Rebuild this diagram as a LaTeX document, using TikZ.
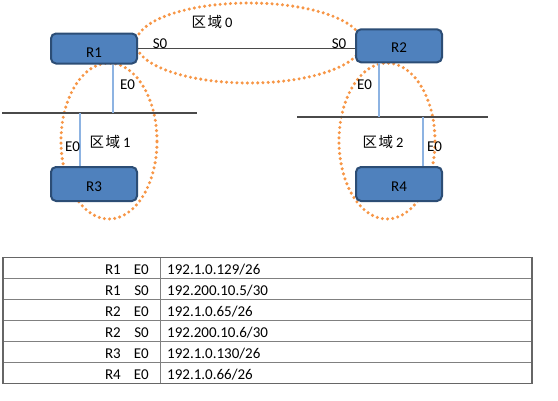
\documentclass[tikz,border=0pt]{standalone}
\usepackage{fontspec}
\setmainfont{Carlito}
\newfontfamily\cjk{Noto Sans CJK SC}
\definecolor{routerfill}{HTML}{4F81BD}
\definecolor{routerborder}{HTML}{2C4D75}
\definecolor{areaorange}{HTML}{F79646}
\definecolor{busgray}{HTML}{4A4A4A}
\definecolor{linkblue}{HTML}{8DB3E2}
\definecolor{tablegray}{HTML}{808080}
\definecolor{tableedge}{HTML}{666666}
\newcommand\lowered[2]{\raisebox{-#1}[\height][0pt]{#2}}
\newcommand\areaname[1]{{\cjk 区\kern1.5pt 域}\kern3pt #1}
\begin{document}
\begin{tikzpicture}[x=1pt,y=-1pt,
  router/.style={draw=routerborder, fill=routerfill, line width=2pt, rounded corners=5pt,
    minimum width=86pt, inner sep=0pt, font=\fontsize{15}{17}\selectfont},
  area/.style={draw=areaorange, line width=3.4pt, line cap=round, dash pattern=on 0pt off 5.2pt},
  bus/.style={draw=busgray, line width=1.5pt},
  link/.style={draw=linkblue, line width=1.1pt},
  lbl/.style={font=\fontsize{15}{17}\selectfont, inner sep=0pt},
  arealbl/.style={font=\fontsize{14.5}{17}\selectfont, inner sep=0pt},
  tline/.style={draw=tablegray, line width=1.2pt},
  tcell/.style={font=\fontsize{15}{17}\selectfont, inner sep=0pt}
]
\fill[white] (0,0) rectangle (558,400);
\useasboundingbox (0,0) rectangle (558,400);

% areas (behind routers)
\draw[area] (249,43) ellipse [x radius=113pt, y radius=40pt];
\draw[area] (109,141) ellipse [x radius=48pt, y radius=78pt];
\draw[area] (387,141) ellipse [x radius=48pt, y radius=78pt];

% bus coordinates
\coordinate (b1L) at (2,113);
\coordinate (b1R) at (197,113);
\coordinate (b2L) at (297,117);
\coordinate (b2R) at (488,117);
\coordinate (j1) at (113,113);
\coordinate (j3) at (80,113);
\coordinate (j2) at (379,117);
\coordinate (j4) at (423,117);

% routers
\path (94,48.5) coordinate (p1) (399,45.8) coordinate (p2)
      (94,184) coordinate (p3) (399,184) coordinate (p4);
\node[router, minimum height=30pt] (r1) at (p1) {\lowered{4pt}{R1}};
\node[router, minimum height=33pt] (r2) at (p2) {\lowered{2pt}{R2}};
\node[router, minimum height=34pt] (r3) at (p3) {\lowered{3pt}{R3}};
\node[router, minimum height=34pt] (r4) at (p4) {\lowered{3pt}{R4}};

% connectors
\draw[bus] (b1L) -- (b1R);
\draw[bus] (b2L) -- (b2R);
\draw[bus] (r1.east) -- (r1.east -| r2.west);
\draw[link] (r1.south -| j1) -- (j1);
\draw[link] (r3.north -| j3) -- (j3);
\draw[link] (r2.south -| j2) -- (j2);
\draw[link] (r4.north -| j4) -- (j4);

% labels
\node[lbl] (s0a) at (160,44) {S0};
\node[lbl] (s0b) at (339,44) {S0};
\node[lbl] (e0a) at (127.5,85) {E0};
\node[lbl] (e0c) at (72.5,147) {E0};
\node[lbl] (e0b) at (364.5,85) {E0};
\node[lbl] (e0d) at (434.5,147) {E0};
\node[arealbl] (a0) at (212,22) {\areaname{0}};
\node[arealbl] (a1) at (110,142) {\areaname{1}};
\node[arealbl] (a2) at (383,142) {\areaname{2}};

% table
\foreach \k in {1,...,5} \draw[tline] (3,{257.5+21*\k}) -- (532,{257.5+21*\k});
\draw[tline] (160.5,257.5) -- (160.5,383.5);
\draw[draw=tableedge, line width=1.3pt] (3,257.5) rectangle (532,383.5);

\node[tcell, anchor=base east] (t1r) at (121,274.5) {R1};
\node[tcell, anchor=base east] (t1i) at (149,274.5) {E0};
\node[tcell, anchor=base west] (t1p) at (167,274.5) {192.1.0.129/26};
\node[tcell, anchor=base east] (t2r) at (121,295.5) {R1};
\node[tcell, anchor=base east] (t2i) at (149,295.5) {S0};
\node[tcell, anchor=base west] (t2p) at (167,295.5) {192.200.10.5/30};
\node[tcell, anchor=base east] (t3r) at (121,316.5) {R2};
\node[tcell, anchor=base east] (t3i) at (149,316.5) {E0};
\node[tcell, anchor=base west] (t3p) at (167,316.5) {192.1.0.65/26};
\node[tcell, anchor=base east] (t4r) at (121,337.5) {R2};
\node[tcell, anchor=base east] (t4i) at (149,337.5) {S0};
\node[tcell, anchor=base west] (t4p) at (167,337.5) {192.200.10.6/30};
\node[tcell, anchor=base east] (t5r) at (121,358.5) {R3};
\node[tcell, anchor=base east] (t5i) at (149,358.5) {E0};
\node[tcell, anchor=base west] (t5p) at (167,358.5) {192.1.0.130/26};
\node[tcell, anchor=base east] (t6r) at (121,379.5) {R4};
\node[tcell, anchor=base east] (t6i) at (149,379.5) {E0};
\node[tcell, anchor=base west] (t6p) at (167,379.5) {192.1.0.66/26};
\end{tikzpicture}
\end{document}
